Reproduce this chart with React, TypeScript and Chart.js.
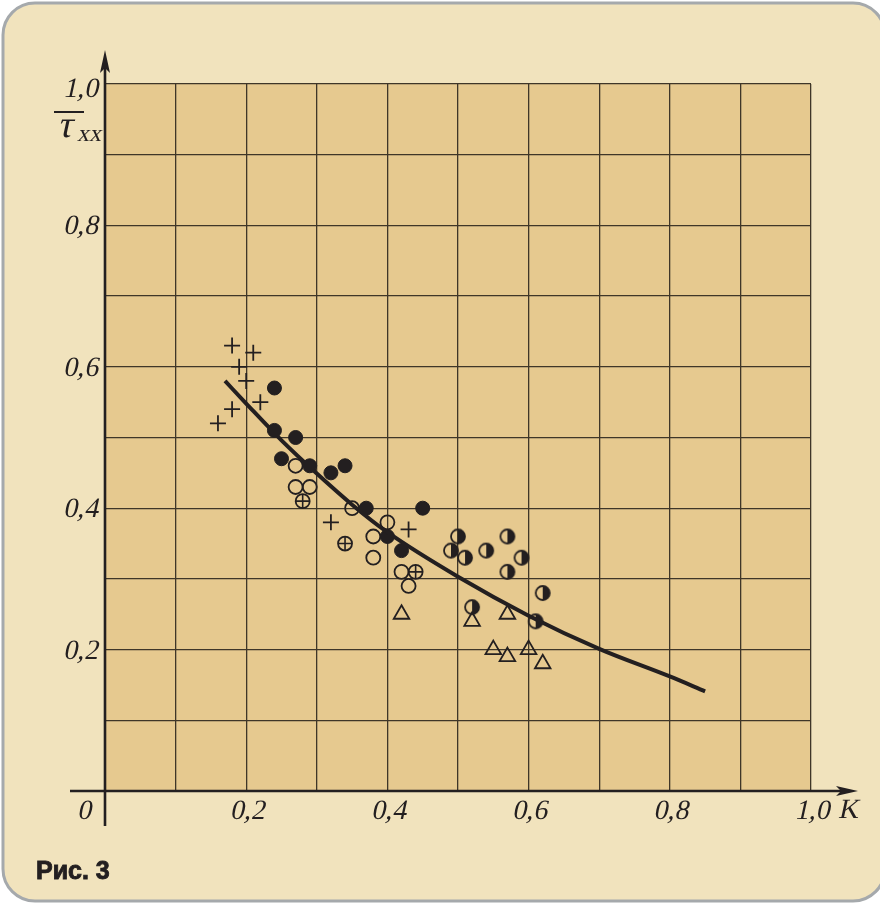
import React, { useEffect, useRef } from "react";
import { Chart, registerables } from "chart.js";

Chart.register(...registerables);

// ---- data ----
const plusPoints = [
  [0.18, 0.63], [0.21, 0.62], [0.19, 0.6], [0.2, 0.58], [0.22, 0.55],
  [0.18, 0.54], [0.16, 0.52], [0.32, 0.38], [0.43, 0.37],
];
const filledPoints = [
  [0.24, 0.57], [0.24, 0.51], [0.27, 0.5], [0.25, 0.47], [0.29, 0.46],
  [0.32, 0.45], [0.34, 0.46], [0.37, 0.4], [0.45, 0.4], [0.4, 0.36], [0.42, 0.34],
];
const openPoints = [
  [0.27, 0.46], [0.27, 0.43], [0.29, 0.43], [0.35, 0.4], [0.4, 0.38],
  [0.38, 0.36], [0.38, 0.33], [0.42, 0.31], [0.43, 0.29],
];
const circlePlusPoints = [[0.28, 0.41], [0.34, 0.35], [0.44, 0.31]];
const halfPoints = [
  [0.5, 0.36], [0.49, 0.34], [0.51, 0.33], [0.54, 0.34], [0.57, 0.36],
  [0.59, 0.33], [0.57, 0.31], [0.62, 0.28], [0.52, 0.26], [0.61, 0.24],
];
const trianglePoints = [
  [0.42, 0.25], [0.52, 0.24], [0.57, 0.25], [0.55, 0.2], [0.57, 0.19],
  [0.6, 0.2], [0.62, 0.18],
];
const curveK = [0.17, 0.2, 0.25, 0.3, 0.35, 0.4, 0.5, 0.6, 0.7, 0.8, 0.85];
const curveV = [0.58, 0.548, 0.496, 0.449, 0.405, 0.366, 0.303, 0.248, 0.201, 0.162, 0.141];

const xTickValues = [0.2, 0.4, 0.6, 0.8, 1.0];
const xTickLabels = ["0,2", "0,4", "0,6", "0,8", "1,0"];
const yTickValues = [0.2, 0.4, 0.6, 0.8, 1.0];
const yTickLabels = ["0,2", "0,4", "0,6", "0,8", "1,0"];

const INK = "#231f20";
const PANEL = "#f1e3bd";
const PLOT = "#e6c98f";
const GRID = "#3f3628";
const SERIF = "'Liberation Serif', 'Times New Roman', serif";

const toXY = (arr: number[][]) => arr.map(([x, y]) => ({ x, y }));

function makeHalfCircle(): HTMLCanvasElement {
  const c = document.createElement("canvas");
  c.width = 20;
  c.height = 20;
  const g = c.getContext("2d")!;
  g.fillStyle = INK;
  g.beginPath();
  g.arc(10, 10, 7, -Math.PI / 2, Math.PI / 2);
  g.closePath();
  g.fill();
  g.strokeStyle = INK;
  g.lineWidth = 1.8;
  g.beginPath();
  g.arc(10, 10, 7, 0, Math.PI * 2);
  g.stroke();
  return c;
}

function roundRect(ctx: CanvasRenderingContext2D, x: number, y: number, w: number, h: number, r: number) {
  ctx.beginPath();
  ctx.moveTo(x + r, y);
  ctx.lineTo(x + w - r, y);
  ctx.arcTo(x + w, y, x + w, y + r, r);
  ctx.lineTo(x + w, y + h - r);
  ctx.arcTo(x + w, y + h, x + w - r, y + h, r);
  ctx.lineTo(x + r, y + h);
  ctx.arcTo(x, y + h, x, y + h - r, r);
  ctx.lineTo(x, y + r);
  ctx.arcTo(x, y, x + r, y, r);
  ctx.closePath();
}

// slanted (italic-like) text drawn around its baseline point
function slantText(ctx: CanvasRenderingContext2D, text: string, x: number, y: number) {
  ctx.save();
  ctx.translate(x, y);
  ctx.transform(1, 0, -0.22, 1, 0, 0);
  ctx.fillText(text, 0, 0);
  ctx.restore();
}

const decorPlugin = {
  id: "decor",
  beforeDraw(chart: any) {
    const ctx = chart.ctx as CanvasRenderingContext2D;
    const { left, top, right, bottom } = chart.chartArea;
    ctx.save();
    ctx.fillStyle = "#ffffff";
    ctx.fillRect(0, 0, chart.width, chart.height);
    roundRect(ctx, 3, 3, 882, 898, 32);
    ctx.fillStyle = PANEL;
    ctx.fill();
    ctx.strokeStyle = "#a5a9ac";
    ctx.lineWidth = 3;
    ctx.stroke();
    ctx.fillStyle = PLOT;
    ctx.fillRect(left, top, right - left, bottom - top);
    ctx.restore();
  },
  afterDatasetsDraw(chart: any) {
    const ctx = chart.ctx as CanvasRenderingContext2D;
    const xs = chart.scales.x;
    const ys = chart.scales.y;
    const x0 = xs.getPixelForValue(0);
    const y0 = ys.getPixelForValue(0);
    const yTop = ys.getPixelForValue(1);
    const xRight = xs.getPixelForValue(1);
    ctx.save();
    ctx.strokeStyle = INK;
    ctx.fillStyle = INK;
    ctx.lineWidth = 2.6;
    // y axis
    ctx.beginPath();
    ctx.moveTo(x0, y0 + 35);
    ctx.lineTo(x0, yTop - 18);
    ctx.stroke();
    ctx.beginPath();
    ctx.moveTo(x0, yTop - 34);
    ctx.lineTo(x0 - 5, yTop - 11);
    ctx.lineTo(x0, yTop - 16);
    ctx.lineTo(x0 + 5, yTop - 11);
    ctx.closePath();
    ctx.fill();
    // x axis
    ctx.beginPath();
    ctx.moveTo(x0 - 35, y0);
    ctx.lineTo(xRight + 30, y0);
    ctx.stroke();
    ctx.beginPath();
    ctx.moveTo(xRight + 47, y0);
    ctx.lineTo(xRight + 25, y0 - 5);
    ctx.lineTo(xRight + 30, y0);
    ctx.lineTo(xRight + 25, y0 + 5);
    ctx.closePath();
    ctx.fill();

    // tick labels
    ctx.font = `28px ${SERIF}`;
    ctx.textAlign = "center";
    ctx.textBaseline = "alphabetic";
    xTickValues.forEach((v, i) => {
      slantText(ctx, xTickLabels[i], xs.getPixelForValue(v) + 1, y0 + 28);
    });
    slantText(ctx, "0", x0 - 21, y0 + 28);
    ctx.textAlign = "left";
    slantText(ctx, "K", xRight + 27, y0 + 27);

    ctx.textAlign = "right";
    yTickValues.forEach((v, i) => {
      const off = v === 1.0 ? 4 : 0;
      slantText(ctx, yTickLabels[i], x0 - 7, ys.getPixelForValue(v) + off + 9);
    });

    // axis title: fraction 1 / tau_xx
    ctx.lineWidth = 2;
    ctx.beginPath();
    ctx.moveTo(54, yTop + 28);
    ctx.lineTo(84, yTop + 28);
    ctx.stroke();
    ctx.textAlign = "left";
    ctx.font = `38px ${SERIF}`;
    slantText(ctx, "τ", 57, yTop + 53);
    ctx.font = `24px ${SERIF}`;
    slantText(ctx, "xx", 77, yTop + 57);

    // caption
    ctx.font = `bold 25px 'Liberation Sans', Arial, sans-serif`;
    ctx.lineWidth = 0.9;
    ctx.fillText("Рис. 3", 36, 879);
    ctx.strokeText("Рис. 3", 36, 879);
    ctx.restore();
  },
};

export default function App() {
  const ref = useRef<HTMLCanvasElement>(null);

  useEffect(() => {
    if (!ref.current) return;
    const half = makeHalfCircle();
    const chart = new Chart(ref.current, {
      type: "scatter",
      data: {
        datasets: [
          {
            type: "line",
            label: "curve",
            data: curveK.map((k, i) => ({ x: k, y: curveV[i] })),
            borderColor: INK,
            borderWidth: 4,
            pointRadius: 0,
            fill: false,
            cubicInterpolationMode: "monotone",
            order: 0,
          } as any,
          {
            label: "filled",
            data: toXY(filledPoints),
            pointStyle: "circle",
            pointRadius: 7,
            backgroundColor: INK,
            borderColor: INK,
            borderWidth: 1,
            order: 1,
          },
          {
            label: "half",
            data: toXY(halfPoints),
            pointStyle: half as any,
            pointRadius: 7,
            order: 2,
          },
          {
            label: "plus",
            data: toXY(plusPoints),
            pointStyle: "cross",
            pointRadius: 8,
            borderColor: INK,
            borderWidth: 1.8,
            order: 3,
          },
          {
            label: "circlePlusCross",
            data: toXY(circlePlusPoints),
            pointStyle: "cross",
            pointRadius: 7,
            borderColor: INK,
            borderWidth: 1.6,
            order: 4,
          },
          {
            label: "circlePlusRing",
            data: toXY(circlePlusPoints),
            pointStyle: "circle",
            pointRadius: 7,
            backgroundColor: "rgba(0,0,0,0)",
            borderColor: INK,
            borderWidth: 1.8,
            order: 4,
          },
          {
            label: "open",
            data: toXY(openPoints),
            pointStyle: "circle",
            pointRadius: 7,
            backgroundColor: "rgba(0,0,0,0)",
            borderColor: INK,
            borderWidth: 1.8,
            order: 5,
          },
          {
            label: "triangle",
            data: toXY(trianglePoints),
            pointStyle: "triangle",
            pointRadius: 9,
            backgroundColor: "rgba(0,0,0,0)",
            borderColor: INK,
            borderWidth: 1.8,
            order: 6,
          },
        ],
      },
      options: {
        animation: false,
        responsive: false,
        devicePixelRatio: 1,
        layout: { padding: { left: 105, right: 69, top: 84, bottom: 112 } },
        plugins: { legend: { display: false }, tooltip: { enabled: false } },
        scales: {
          x: {
            type: "linear",
            min: 0,
            max: 1,
            ticks: { display: false, stepSize: 0.1 },
            grid: { color: GRID, lineWidth: 1.3, drawTicks: false },
            border: { display: false },
            afterFit: (s: any) => { s.height = 0; },
          },
          y: {
            type: "linear",
            min: 0,
            max: 1,
            ticks: { display: false, stepSize: 0.1 },
            grid: { color: GRID, lineWidth: 1.3, drawTicks: false },
            border: { display: false },
            afterFit: (s: any) => { s.width = 0; },
          },
        },
      },
      plugins: [decorPlugin],
    });
    return () => chart.destroy();
  }, []);

  return (
    <div style={{ position: "absolute", left: 0, top: 0, width: 880, height: 903, overflow: "hidden" }}>
      <canvas ref={ref} width={880} height={903} style={{ display: "block", width: 880, height: 903 }} />
    </div>
  );
}
